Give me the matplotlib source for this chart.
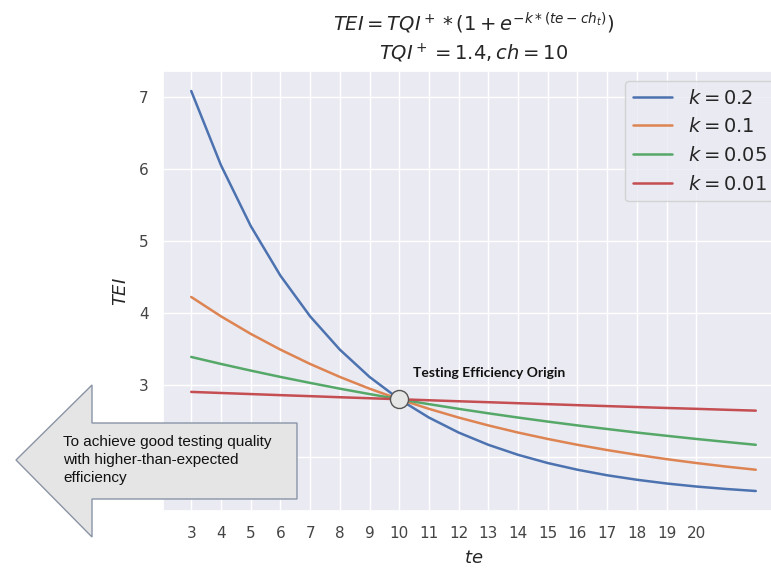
import matplotlib
matplotlib.use('Agg')
import matplotlib.pyplot as plt
import seaborn as sns
from matplotlib.patches import Polygon

sns.set_theme(style='darkgrid')

# data (TEI for each te, one list per k)
te = [3, 4, 5, 6, 7, 8, 9, 10, 11, 12, 13, 14, 15, 16, 17, 18, 19, 20, 21, 22]
tei_k020 = [7.077, 6.048, 5.206, 4.516, 3.951, 3.489, 3.110, 2.800, 2.546, 2.338,
            2.168, 2.029, 1.915, 1.822, 1.745, 1.683, 1.631, 1.589, 1.555, 1.527]
tei_k010 = [4.219, 3.951, 3.708, 3.489, 3.290, 3.110, 2.947, 2.800, 2.667, 2.546,
            2.437, 2.338, 2.249, 2.168, 2.095, 2.029, 1.969, 1.915, 1.866, 1.822]
tei_k005 = [3.387, 3.290, 3.198, 3.110, 3.027, 2.947, 2.872, 2.800, 2.732, 2.667,
            2.605, 2.546, 2.490, 2.437, 2.387, 2.338, 2.293, 2.249, 2.208, 2.168]
tei_k001 = [2.902, 2.887, 2.872, 2.857, 2.843, 2.828, 2.814, 2.800, 2.786, 2.772,
            2.759, 2.745, 2.732, 2.718, 2.705, 2.692, 2.679, 2.667, 2.654, 2.642]
series = [tei_k020, tei_k010, tei_k005, tei_k001]
labels = ['$k = 0.2$', '$k = 0.1$', '$k = 0.05$', '$k = 0.01$']
xticks = list(range(3, 21))
yticks = [2, 3, 4, 5, 6, 7]
ytick_labels = ['', '3', '4', '5', '6', '7']  # the "2" sits under the arrow

origin_te = 10
origin_tei = 2.8

W, H = 771, 569
fig = plt.figure(figsize=(W / 100, H / 100), dpi=100)


def px(x, y):
    return (x / W, 1 - y / H)


ax = fig.add_axes([163 / W, 1 - 511 / H, 621 / W, 440 / H])

for vals, lab in zip(series, labels):
    ax.plot(te, vals, label=lab, lw=1.8)

ax.plot(origin_te, origin_tei, 'o', ms=13, mfc='#e6e6e6', mec='#555555', mew=1.0, zorder=5)

ax.set_xticks(xticks)
ax.set_yticks(yticks)
ax.set_yticklabels(ytick_labels)
ax.tick_params(labelsize=11, pad=4.5, colors='#444444')
ax.set_xlabel('$te$', fontsize=13, labelpad=6)
ax.set_ylabel('$TEI$', fontsize=13, labelpad=6)
ax.set_title('$TEI = TQI^+ * (1 + e^{-k*(te - ch_t)})$\n$TQI^+ = 1.4, ch = 10$',
             fontsize=14, linespacing=1.3, pad=8)
leg = ax.legend(loc='upper right', fontsize=14)

fig.text(413 / W, 1 - 373 / H, 'Testing Efficiency Origin', fontweight='bold',
         family='Lato', fontsize=10, va='center', color='#111111')

# block arrow drawn over the chart
arrow_pts = [px(16, 460), px(92, 385), px(92, 423), px(297, 423),
             px(297, 499), px(92, 499), px(92, 537)]
arrow = Polygon(arrow_pts, closed=True, facecolor='#e5e5e5', edgecolor='#8a94a6',
                lw=1.0, transform=fig.transFigure, zorder=5)
fig.add_artist(arrow)
fig.text(63 / W, 1 - 435 / H, 'To achieve good testing quality\nwith higher-than-expected\nefficiency',
         family='Liberation Sans', fontsize=11, va='top', ha='left', linespacing=1.35,
         color='#111111', zorder=6)

plt.savefig('out.png', dpi=100)
